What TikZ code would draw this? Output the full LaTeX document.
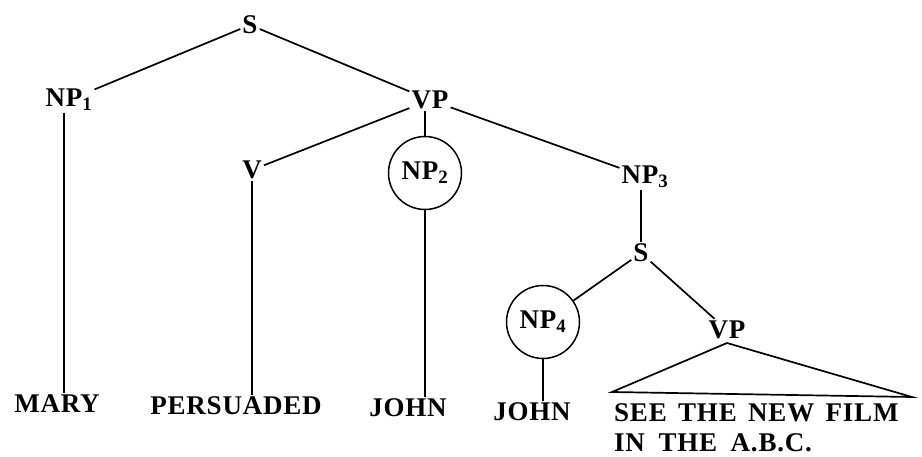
\documentclass[tikz,border=0pt]{standalone}
\usepackage{fontspec}
\newfontfamily\treefont{Liberation Serif}[LetterSpace=3]
\begin{document}
\begin{tikzpicture}[x=1pt,y=-1pt,
  lab/.style={inner sep=2pt, font=\fontsize{27}{32}\selectfont\treefont\bfseries},
  circ/.style={lab, circle, draw, line width=1.5pt, minimum size=73pt, inner sep=0pt},
  edge/.style={line width=1.7pt}]
\useasboundingbox (0,0) rectangle (922,457);
\node[lab] (S1) at (250,25) {S};
\node[lab] (NP1) at (69,100) {NP\textsubscript{1}};
\node[lab] (VP1) at (430,100) {VP};
\node[lab] (V) at (252,170) {V};
\node[circ] (NP2) at (425,173) {NP\textsubscript{2}};
\node[lab] (NP3) at (645,177) {NP\textsubscript{3}};
\node[lab] (S2) at (641,253) {S};
\node[circ] (NP4) at (543,322) {NP\textsubscript{4}};
\node[lab] (VP2) at (727,330) {VP};
\node[lab] (MARY) at (57,404) {MARY};
\node[lab] (PERS) at (236,406) {PERSUADED};
\node[lab] (JOHN1) at (408,408) {JOHN};
\node[lab] (JOHN2) at (532,412) {JOHN};
\node[lab, anchor=west] (SEE) at (612,413) {SEE\hspace{0.42em}THE\hspace{0.42em}NEW\hspace{0.42em}FILM};
\node[lab, anchor=west] (IN) at (612,443) {IN\hspace{0.5em}THE\hspace{0.5em}A.B.C.};
\coordinate (TL) at (612,392);
\coordinate (TR) at (912,397);
\coordinate (TA) at (727,343);
\draw[edge] (S1) -- (NP1);
\draw[edge] (S1) -- (VP1);
\draw[edge] (VP1) -- (V);
\draw[edge] (VP1.south -| NP2) -- (NP2);
\draw[edge] (VP1) -- (NP3);
\draw[edge] ([xshift=-5pt]NP1.south) -- ([xshift=-5pt]NP1.south |- MARY.north);
\draw[edge] (V.south) -- (V.south |- PERS.north);
\draw[edge] (NP2.south) -- (NP2.south |- JOHN1.north);
\draw[edge] (S2.north |- NP3.south) -- (S2.north);
\draw[edge] (S2) -- (NP4);
\draw[edge] (S2) -- (VP2);
\draw[edge] (NP4.south) -- (NP4.south |- JOHN2.north);
\draw[edge] (TA) -- (TL) -- (TR) -- cycle;
\end{tikzpicture}
\end{document}
